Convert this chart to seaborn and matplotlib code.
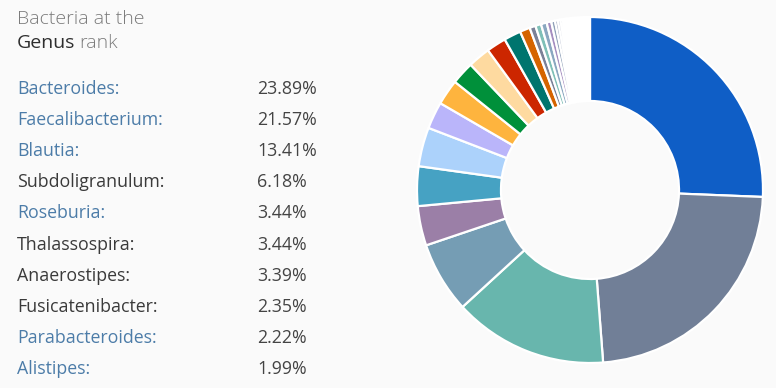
import matplotlib
matplotlib.use("Agg")
import matplotlib.pyplot as plt
import seaborn as sns

sns.set_theme(style="white")
plt.rcParams['font.family'] = ['Open Sans', 'DejaVu Sans']

# ---- data ----
genera = ["Bacteroides", "Faecalibacterium", "Blautia", "Subdoligranulum",
          "Roseburia", "Thalassospira", "Anaerostipes", "Fusicatenibacter",
          "Parabacteroides", "Alistipes"]
percents = [23.89, 21.57, 13.41, 6.18, 3.44, 3.44, 3.39, 2.35, 2.22, 1.99]
linked = [True, True, True, False, True, False, False, False, True, True]

# further (unlisted) genera shown only in the donut, plus white remainder
other_values = [1.94, 1.71, 1.48, 0.88, 0.52, 0.50, 0.50, 0.40, 0.33,
                0.25, 0.22, 0.20, 0.17, 0.12]
remainder = 2.07

slice_colors = ["#0f5ec6", "#717f97", "#68b6ad", "#759db4", "#9b7fa7",
                "#46a2c3", "#acd2fb", "#bab5fa", "#feb43e", "#00903a",
                "#fedaa0", "#cc2600", "#00756e", "#d56400",
                "#7a8197", "#7fc0b7", "#8aa7c0", "#a58ec0", "#8fa0b8",
                "#9aa4bd", "#a8b0c6", "#b0b8cc", "#bcc2d4", "#c8cdda",
                "#ffffff"]

BG = "#fafafa"
W, H = 776, 388
fig = plt.figure(figsize=(W / 100, H / 100), dpi=100, facecolor=BG)

def fx(px):
    return px / W

def fy(py):
    return 1 - py / H

# ---- donut ----
cx, cy, R = 590, 190, 173
box = 176
ax = fig.add_axes([fx(cx - box), fy(cy + box), 2 * box / W, 2 * box / H])
ax.set_facecolor(BG)
values = percents + other_values + [remainder]
wedges, _ = ax.pie(values, colors=slice_colors, startangle=90, counterclock=False,
                   radius=R / box,
                   wedgeprops=dict(width=84 / box, edgecolor="white", linewidth=1.6))
ax.set_xlim(-1, 1)
ax.set_ylim(-1, 1)
ax.set_aspect("equal")
ax.axis("off")

# ---- title ----
title_col = "#7b7b7b"
fig.text(fx(17), fy(24), "Bacteria at the", fontsize=14, color=title_col,
         fontweight="light", va="baseline", ha="left")
t_genus = fig.text(fx(17), fy(48.5), "Genus", fontsize=14, color="#2e2e2e",
                   fontweight="normal", va="baseline", ha="left")
fig.canvas.draw()
bb = t_genus.get_window_extent(renderer=fig.canvas.get_renderer())
fig.text(bb.x1 / W + fx(4), fy(48.5), "rank", fontsize=14, color=title_col,
         fontweight="light", va="baseline", ha="left")

# ---- list ----
for i, (name, pct, lk) in enumerate(zip(genera, percents, linked)):
    base = 93.5 + 31.2 * i
    fig.text(fx(17), fy(base), name + ":", fontsize=12.8,
             color="#4c7ca8" if lk else "#3a3a3a", va="baseline", ha="left")
    fig.text(fx(257), fy(base), f"{pct:.2f}%", fontsize=12.8, color="#444444",
             va="baseline", ha="left")

fig.savefig("out.png", dpi=100, facecolor=BG)
